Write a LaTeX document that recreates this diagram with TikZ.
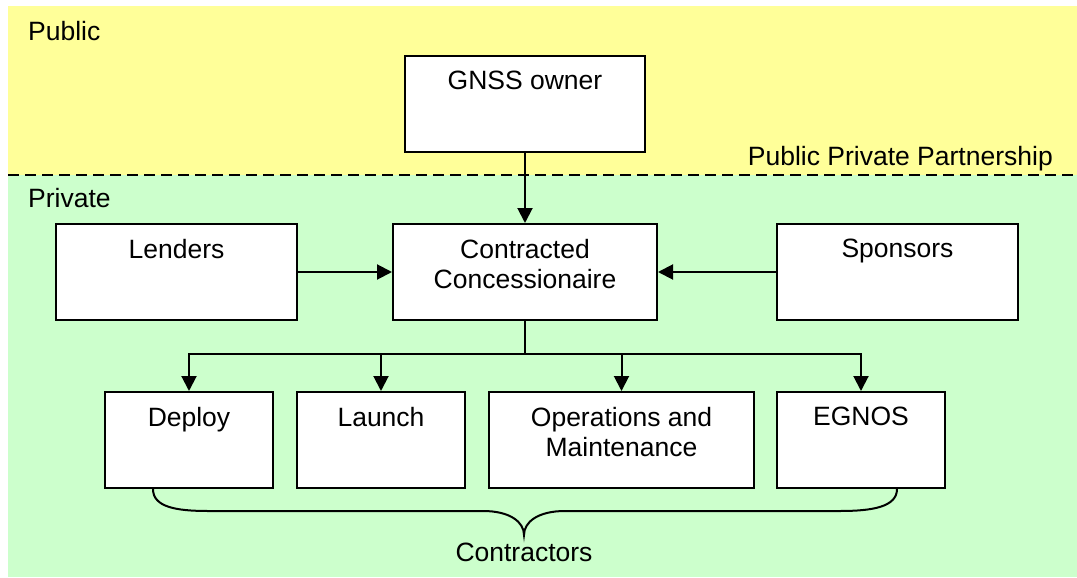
\documentclass[tikz,border=0pt]{standalone}
\usepackage{fontspec}
\setmainfont{Liberation Sans}
\usetikzlibrary{arrows.meta}
\definecolor{publicbg}{HTML}{FFFF99}
\definecolor{privatebg}{HTML}{CCFFCC}
\tikzset{
  box/.style={draw=black, fill=white, line width=2pt, inner sep=0pt, anchor=north west},
  txt/.style={font=\fontsize{26.5pt}{30pt}\selectfont, inner sep=0pt, align=center},
  wire/.style={line width=2pt},
  link/.style={wire, -{Triangle[length=15pt,width=15pt]}},
  partition/.style={line width=2pt, dash pattern=on 11pt off 6pt},
  brace/.style={line width=2pt}
}
\begin{document}
\begin{tikzpicture}[x=1pt,y=-1pt]
\useasboundingbox (0,0) rectangle (1077,578);

% sector backgrounds and their boundary
\fill[publicbg] (8,6) rectangle (1077,175);
\fill[privatebg] (8,175) rectangle (1077,577);
\draw[partition] (8,175) -- (1077,175);

% sector labels
\node[txt, anchor=base west] (publiclbl) at (28,41) {Public};
\node[txt, anchor=base west] (privatelbl) at (28,207) {Private};
\node[txt, anchor=base east] (ppplbl) at (1053,165) {Public Private Partnership};

% boxes
\node[box, minimum width=240pt, minimum height=96pt] (gnss) at (404,55) {};
\node[box, minimum width=241pt, minimum height=96pt] (lenders) at (55,223) {};
\node[box, minimum width=264pt, minimum height=96pt] (cc) at (392,223) {};
\node[box, minimum width=241pt, minimum height=96pt] (sponsors) at (776,223) {};
\node[box, minimum width=168pt, minimum height=96pt] (deploy) at (104,391) {};
\node[box, minimum width=168pt, minimum height=96pt] (launch) at (296,391) {};
\node[box, minimum width=265pt, minimum height=96pt] (ops) at (488,391) {};
\node[box, minimum width=168pt, minimum height=96pt] (egnos) at (776,391) {};

% box captions, set at the top of each box
\node[txt, anchor=north] (gnsstxt) at (gnss.north |- 0,71) {GNSS owner};
\node[txt, anchor=north] (lenderstxt) at (lenders.north |- 0,239) {Lenders};
\node[txt, anchor=north] (cctxt) at (cc.north |- 0,239) {Contracted\\Concessionaire};
\node[txt, anchor=north] (sponsorstxt) at (sponsors.north |- 0,239) {Sponsors};
\node[txt, anchor=north] (deploytxt) at (deploy.north |- 0,407) {Deploy};
\node[txt, anchor=north] (launchtxt) at (launch.north |- 0,407) {Launch};
\node[txt, anchor=north] (opstxt) at (ops.north |- 0,407) {Operations and\\Maintenance};
\node[txt, anchor=north] (egnostxt) at (egnos.north |- 0,407) {EGNOS};

% connectors
\draw[link] (gnss.south) -- (cc.north);
\draw[link] (lenders.east) -- (cc.west);
\draw[link] (sponsors.west) -- (cc.east);
\coordinate (split) at (cc.south |- 0,354);
\draw[wire] (cc.south) -- (split);
\draw[link] (split) -| (deploy.north);
\draw[link] (split) -| (launch.north);
\draw[link] (split) -| (ops.north);
\draw[link] (split) -| (egnos.north);

% brace grouping the contractors
\coordinate (braceL) at ([xshift=-36pt]deploy.south);
\coordinate (braceR) at ([xshift=36pt]egnos.south);
\coordinate (braceTip) at (524,535);
\draw[brace] (braceL) .. controls +(0,18) and +(-32,0) .. (208,511)
  -- (483,511) .. controls +(27,0) and +(0,-13) .. (braceTip)
  .. controls +(0,-13) and +(-27,0) .. (565,511)
  -- (840,511) .. controls +(32,0) and +(0,18) .. (braceR);
\node[txt, anchor=base] (contractors) at (524,561) {Contractors};
\end{tikzpicture}
\end{document}
